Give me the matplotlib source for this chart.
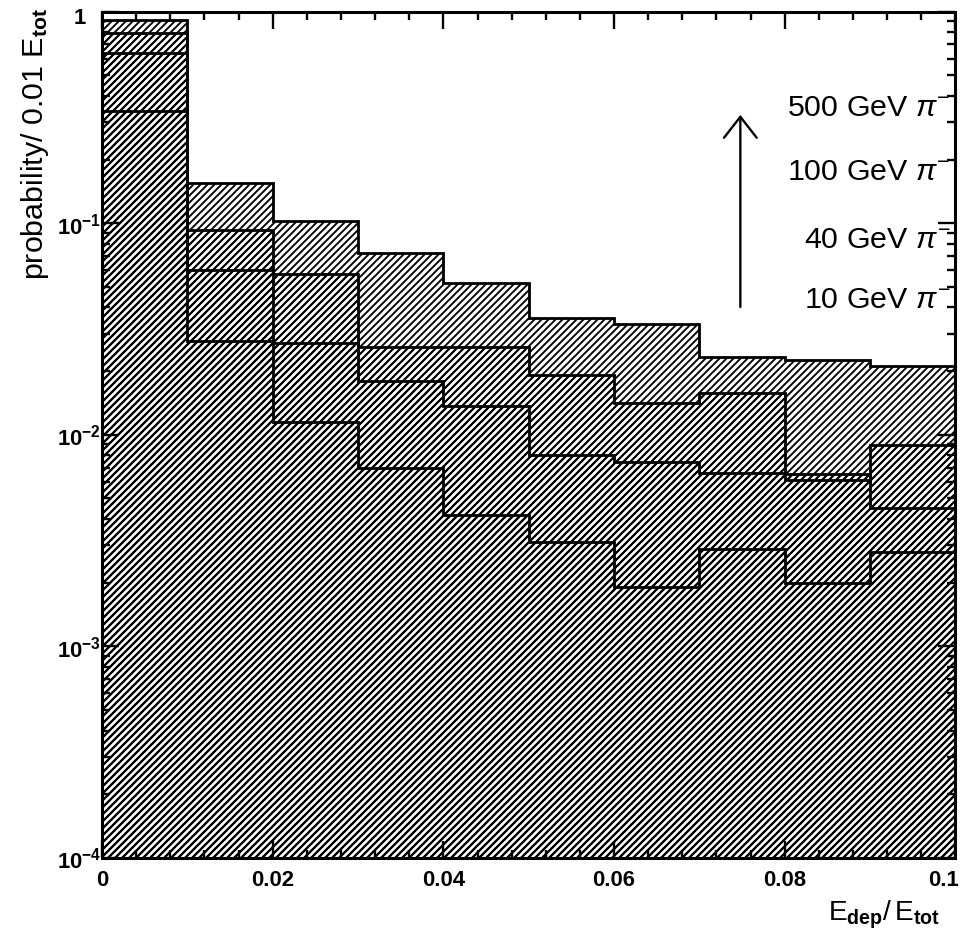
import matplotlib
matplotlib.use('Agg')
import matplotlib.pyplot as plt
import matplotlib.ticker as ticker
import matplotlib.transforms as mtransforms
import numpy as np

# bin edges of E_dep/E_tot and probabilities per 0.01 E_tot
bin_edges = [0.0, 0.01, 0.02, 0.03, 0.04, 0.05, 0.06, 0.07, 0.08, 0.09, 0.1]
p500 = [0.338, 0.155, 0.102, 0.072, 0.052, 0.0357, 0.0335, 0.0234, 0.0226, 0.0212]
p100 = [0.638, 0.093, 0.0577, 0.0261, 0.026, 0.0192, 0.0142, 0.0158, 0.0061, 0.0089]
p40 = [0.793, 0.060, 0.0272, 0.018, 0.0137, 0.0080, 0.0074, 0.0066, 0.0065, 0.0045]
p10 = [0.917, 0.0278, 0.0115, 0.0070, 0.0042, 0.0031, 0.0019, 0.0029, 0.0020, 0.0028]

series_labels = ['500 GeV $\\pi^{-}$', '100 GeV $\\pi^{-}$', '40 GeV $\\pi^{-}$', '10 GeV $\\pi^{-}$']

xtick_vals = [0, 0.02, 0.04, 0.06, 0.08, 0.1]
xtick_labels = ['0', '0.02', '0.04', '0.06', '0.08', '0.1']
ytick_vals = [1e-4, 1e-3, 1e-2, 1e-1, 1]
ytick_labels = [r'$\mathbf{10^{-4}}$', r'$\mathbf{10^{-3}}$', r'$\mathbf{10^{-2}}$',
                r'$\mathbf{10^{-1}}$', '1']

plt.rcParams['font.family'] = ['Liberation Sans', 'DejaVu Sans']
plt.rcParams['mathtext.fontset'] = 'custom'
plt.rcParams['mathtext.rm'] = 'Liberation Sans'
plt.rcParams['mathtext.it'] = 'Liberation Sans:italic'
plt.rcParams['mathtext.bf'] = 'Liberation Sans:bold'
plt.rcParams['hatch.linewidth'] = 1.6

DPI = 84
fig = plt.figure(figsize=(968.4 / DPI, 929.4 / DPI), dpi=DPI)
ax = fig.add_axes([102 / 968, 1 - 858 / 929, 853 / 968, 846 / 929])

for vals in (p500, p100, p40, p10):
    ax.stairs(vals, bin_edges, baseline=1e-4, fill=True, facecolor='none',
              edgecolor='black', hatch='////', linewidth=2.4)

ax.set_yscale('log')
ax.set_xlim(0, 0.1)
ax.set_ylim(1e-4, 1)

ax.set_xticks(xtick_vals, xtick_labels)
ax.xaxis.set_minor_locator(ticker.MultipleLocator(0.004))
ax.set_yticks(ytick_vals, ytick_labels)
ax.yaxis.set_minor_locator(ticker.LogLocator(base=10, subs=np.arange(2, 10)))
ax.yaxis.set_minor_formatter(ticker.NullFormatter())
ax.tick_params(which='both', direction='in', top=True, right=True, width=2)
ax.tick_params(which='major', length=14.5)
ax.tick_params(which='minor', length=7)
ax.tick_params(axis='x', pad=10)
ax.tick_params(axis='y', pad=1)
for lab in ax.get_xticklabels() + ax.get_yticklabels():
    lab.set_fontweight('bold')
    lab.set_fontsize(19)
ax.get_xticklabels()[-1].set_horizontalalignment('right')
ax.get_xticklabels()[-1].set_transform(ax.get_xaxis_text1_transform(10)[0] +
                                       mtransforms.ScaledTranslation(3 / DPI, 0, fig.dpi_scale_trans))
one_lab = ax.get_yticklabels()[-1]
one_lab.set_transform(one_lab.get_transform() +
                      mtransforms.ScaledTranslation(-15 / DPI, -4 / DPI, fig.dpi_scale_trans))
for sp in ax.spines.values():
    sp.set_linewidth(2.6)

# legend text stack with arrow
label_y = [0.877, 0.801, 0.721, 0.650]
for txt, yy in zip(series_labels, label_y):
    ax.text(0.994, yy, txt, transform=ax.transAxes, ha='right', va='baseline', fontsize=26)
ax.annotate('', xy=(0.748, 0.878), xytext=(0.748, 0.651), xycoords='axes fraction',
            arrowprops=dict(arrowstyle='->,head_length=0.9,head_width=0.7',
                            lw=2, color='black', mutation_scale=20, shrinkA=0, shrinkB=0))

ax.text(0.982, -0.0733, r'$\mathrm{E}_{\mathbf{dep}}/\,\mathrm{E}_{\mathbf{tot}}$', transform=ax.transAxes,
        ha='right', va='baseline', fontsize=24)
ax.text(-0.0785, 1.005, r'probability/ 0.01 $\mathrm{E}_{\mathbf{tot}}$', transform=ax.transAxes,
        rotation=90, ha='center', va='top', fontsize=26)

fig.savefig('out.png', dpi=DPI)
